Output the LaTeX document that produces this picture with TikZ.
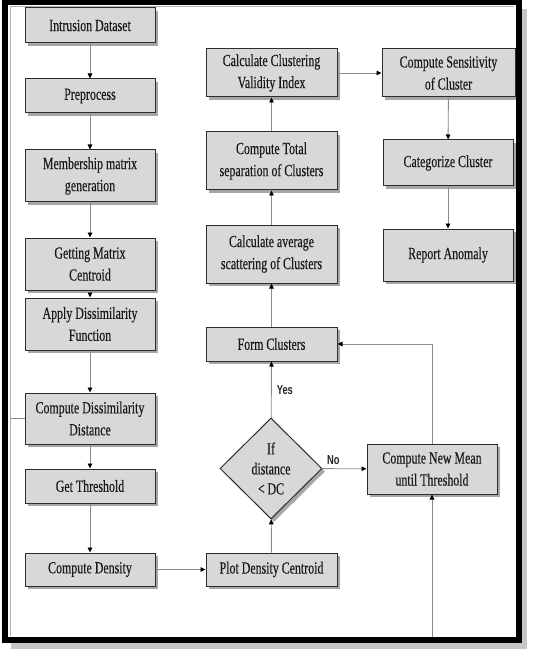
\documentclass[tikz,border=0pt]{standalone}
\usepackage{fontspec}
\usetikzlibrary{shapes.geometric,shadows,arrows.meta}
\newfontfamily\cfont{Liberation Serif}[FakeStretch=0.7,FakeBold=0.3]
\newfontfamily\lfont{Liberation Sans}[FakeStretch=0.72]
\definecolor{boxfill}{RGB}{216,216,216}
\definecolor{boxline}{RGB}{45,45,45}
\definecolor{connline}{RGB}{140,140,140}
\begin{document}
\begin{tikzpicture}[x=1pt,y=-1pt,
  box/.style={draw=boxline, line width=1pt, fill=boxfill, inner sep=0pt,
    align=center, text=black!90, font=\cfont\fontsize{17}{22}\selectfont,
    drop shadow={shadow xshift=3pt, shadow yshift=-3pt, fill=black, opacity=0.35}},
  decision/.style={box, diamond, aspect=1, minimum width=102pt, minimum height=101pt,
    font=\cfont\fontsize{17}{20}\selectfont},
  conn/.style={draw=connline, line width=0.9pt, -{Triangle[length=5pt,width=4.5pt,color=black]}},
  plain/.style={draw=connline, line width=0.9pt},
  lab/.style={font=\lfont\bfseries\fontsize{13}{15}\selectfont, text=black!85, inner sep=0pt}
]
\useasboundingbox (0,0) rectangle (533,652);
\fill[white] (0,0) rectangle (533,652);

% left column
\node[box, minimum width=130pt, minimum height=35pt] (ds)  at (90,25.5) {Intrusion Dataset};
\node[box, minimum width=130pt, minimum height=34pt] (pre) at (90,96) {Preprocess};
\node[box, minimum width=130pt, minimum height=52pt] (mem) at (90,176) {Membership matrix\\generation};
\node[box, minimum width=130pt, minimum height=52pt] (gmc) at (90,264) {Getting Matrix\\Centroid};
\node[box, minimum width=130pt, minimum height=52pt] (adf) at (90,324) {Apply Dissimilarity\\Function};
\node[box, minimum width=130pt, minimum height=51pt] (cdd) at (90,418.5) {Compute Dissimilarity\\Distance};
\node[box, minimum width=130pt, minimum height=34pt] (gt)  at (90,486) {Get Threshold};
\node[box, minimum width=130pt, minimum height=33pt] (cd)  at (90,569.5) {Compute Density};

% middle column
\node[box, minimum width=131pt, minimum height=48pt] (cvi) at (271.5,73) {Calculate Clustering\\Validity Index};
\node[box, minimum width=131pt, minimum height=58pt] (cts) at (271.5,161) {Compute Total\\separation of Clusters};
\node[box, minimum width=131pt, minimum height=58pt] (cas) at (271.5,254) {Calculate average\\scattering of Clusters};
\node[box, minimum width=131pt, minimum height=34pt] (fc)  at (271.5,344) {Form Clusters};
\node[decision] (dia) at (271,468.5) {If\\distance\\<\,DC};
\node[box, minimum width=131pt, minimum height=33pt] (pdc) at (271.5,569.5) {Plot Density Centroid};

% right column
\node[box, minimum width=133pt, minimum height=48pt] (csc) at (448.5,73) {Compute Sensitivity\\of Cluster};
\node[box, minimum width=130pt, minimum height=46pt] (cc)  at (448,163) {Categorize Cluster};
\node[box, minimum width=130pt, minimum height=52pt] (ra)  at (448,255) {Report Anomaly};
\node[box, minimum width=130pt, minimum height=50pt] (cnm) at (432,469) {Compute New Mean\\until Threshold};

% connectors
\draw[conn] (ds) -- (pre);
\draw[conn] (pre) -- (mem);
\draw[conn] (mem) -- (gmc);
\draw[conn] (gmc) -- (adf);
\draw[conn] (adf) -- (cdd);
\draw[conn] (cdd) -- (gt);
\draw[conn] (gt) -- (cd);
\draw[conn] (cd) -- (pdc);
\draw[conn] (pdc) -- (dia);
\draw[conn] (dia) -- node[lab, pos=0.5, right=5pt] (yes) {Yes} (fc);
\draw[conn] (dia) -- node[lab, pos=0.25, above=4pt] (no) {No} (cnm);
\draw[conn] (fc) -- (cas);
\draw[conn] (cas) -- (cts);
\draw[conn] (cts) -- (cvi);
\draw[conn] (cvi) -- (csc);
\draw[conn] (csc) -- (cc);
\draw[conn] (cc) -- (ra);
\draw[conn] (cnm.north) |- (fc.east);
\coordinate (bot) at (432,637);
\draw[conn] (bot) -- (cnm.south);
\coordinate (lft) at (10.5,418.5);
\draw[plain] (cdd.west) -- (lft);

% frame
\draw[gray!45, line width=6pt] (524,9) -- (524,646) -- (11,646);
\draw[black, line width=6pt] (5,2) rectangle (518.5,640);
\draw[gray!60, line width=0.8pt] (10.5,636) -- (10.5,6.5) -- (514,6.5);
\end{tikzpicture}
\end{document}
